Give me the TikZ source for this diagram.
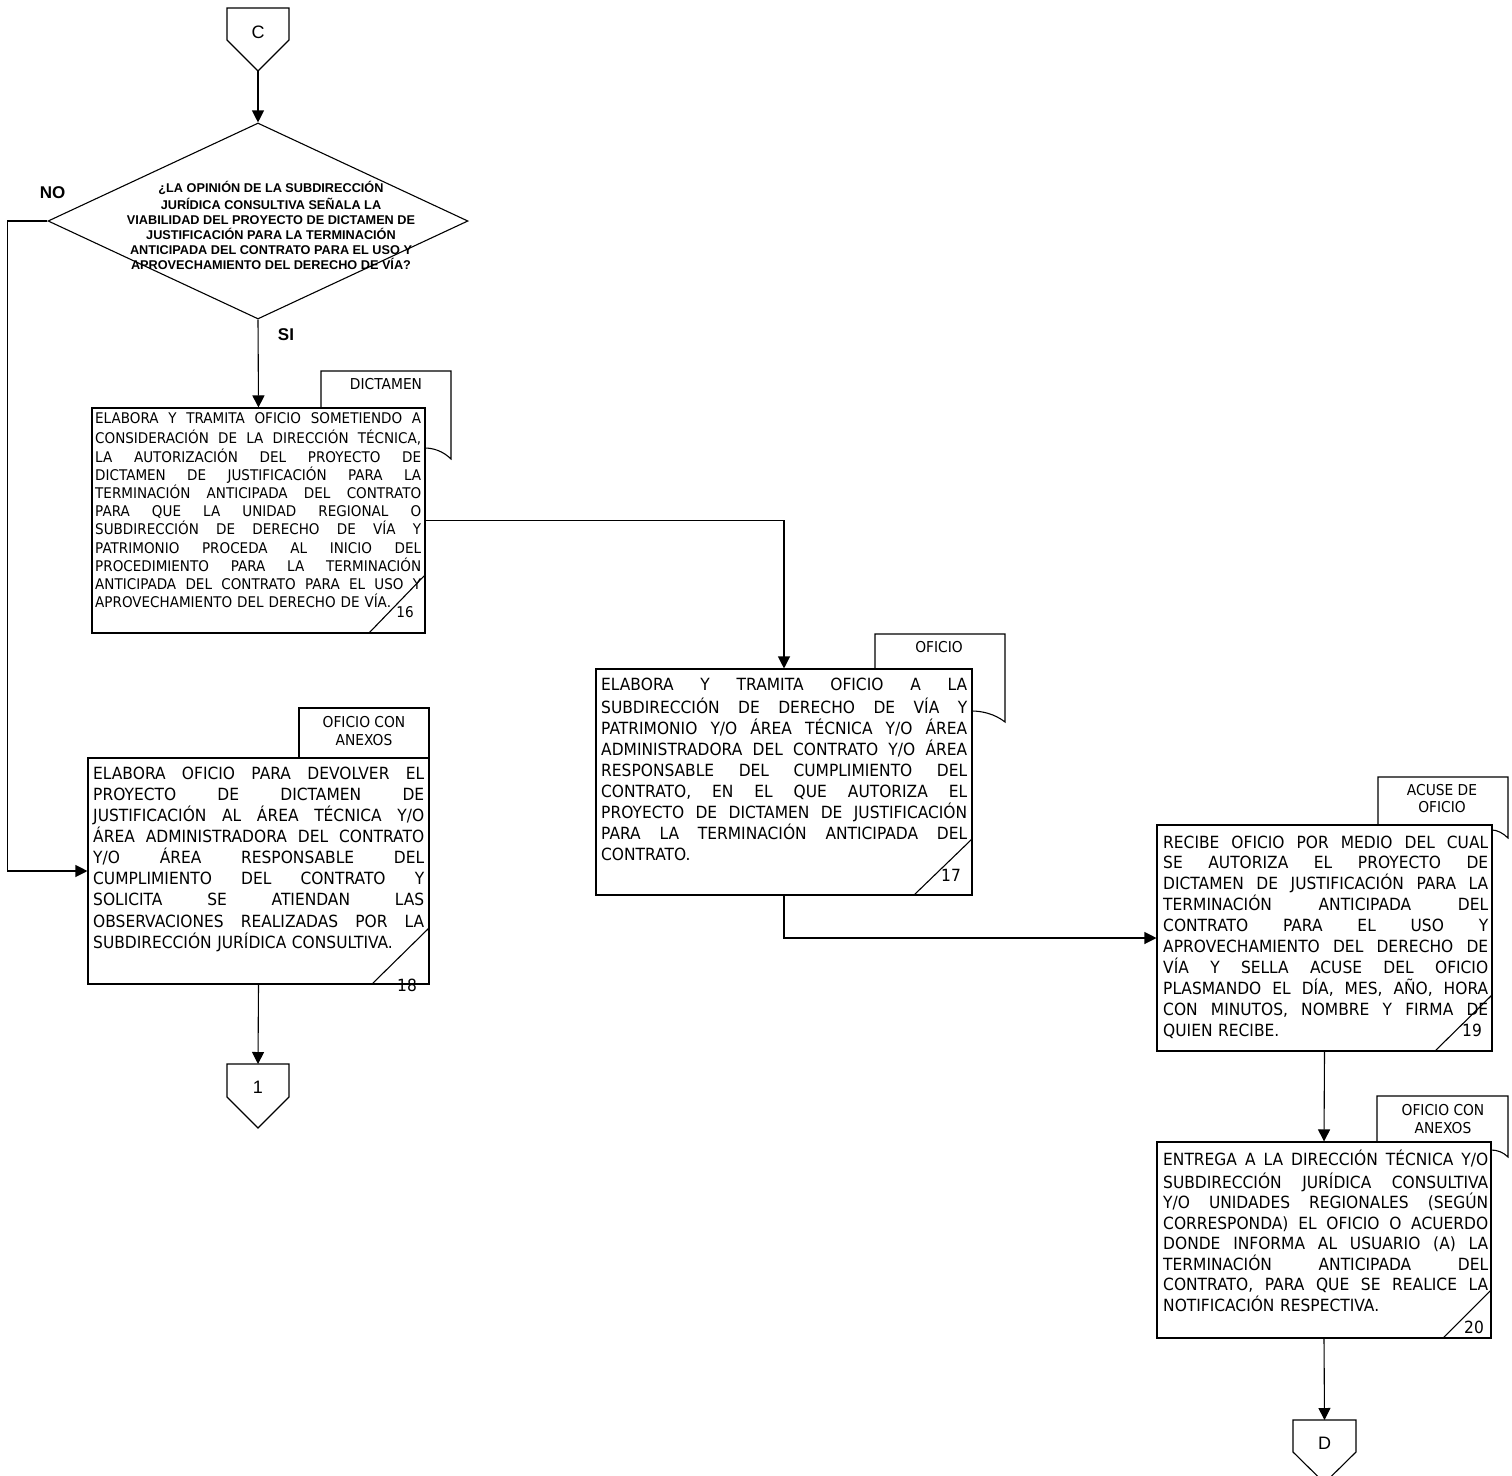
\documentclass[tikz,border=0pt]{standalone}
\usepackage{fontspec}
\setmainfont{DejaVu Sans}[FakeStretch=0.92]
\newfontfamily\arialf{Liberation Sans}
\usetikzlibrary{shapes.geometric,arrows.meta}
\newcommand\JL[1]{\leavevmode\hbox to \hsize{\spaceskip=\fontdimen2\font plus 1fil\relax #1}\\}
\tikzset{
  ln/.style={line width=1.1pt, line join=miter},
  arr/.style={ln, -{Triangle[length=12pt,width=12pt]}},
  box/.style={ln, draw, fill=white, rectangle, inner sep=0pt},
  txt/.style={anchor=north west, inner sep=0pt, text width=#1, align=left},
  big/.style={font=\fontsize{16.8}{21.1}\selectfont},
  tab/.style={inner sep=0pt, align=center, font=\fontsize{15}{17.5}\selectfont},
  num/.style={inner sep=0pt, font=\fontsize{16.8}{18}\selectfont},
  conn/.style={inner sep=0pt, font=\arialf\fontsize{18}{20}\selectfont},
  yn/.style={inner sep=0pt, font=\arialf\bfseries\fontsize{17}{19}\selectfont}
}
\begin{document}
\begin{tikzpicture}[x=1pt,y=-1pt]
\useasboundingbox (0,0) rectangle (1512,1475);
\fill[white] (0,0) rectangle (1512,1475);

% connector C
\draw[ln] (227,8) -- (289,8) -- (289,40) -- (258,71) -- (227,40) -- cycle;
\node[conn] (C) at (258,32) {C};
\coordinate (Cb) at (258,71);

% decision
\node[ln, draw, diamond, minimum width=420pt, minimum height=196pt, inner sep=0pt] (dec) at (258,221) {};
\node[anchor=north, inner sep=0pt, align=center, font=\arialf\bfseries\fontsize{12.7}{15}\selectfont] (dtxt) at (271,181)
 {\strut ¿LA OPINIÓN DE LA SUBDIRECCIÓN\\JURÍDICA CONSULTIVA SEÑALA LA\\VIABILIDAD DEL PROYECTO DE DICTAMEN DE\\JUSTIFICACIÓN PARA LA TERMINACIÓN\\ANTICIPADA DEL CONTRATO PARA EL USO Y\\APROVECHAMIENTO DEL DERECHO DE VÍA?};
\node[yn] (no) at (52.5,193) {NO};
\node[yn] (si) at (286,335) {SI};

% ---- box 16
\draw[ln] (321,408) -- (321,371) -- (451,371) -- (451,459) .. controls (443,451) and (433,448) .. (425,448);
\node[tab] (tab16) at (386,384) {DICTAMEN};
\node[box, minimum width=333pt, minimum height=225pt] (b16) at (258.5,520.5) {};
\node[txt=326pt, font=\fontsize{14.7}{18.2}\selectfont] (t16) at (95,410.8)
 {\JL{\strut ELABORA Y TRAMITA OFICIO SOMETIENDO A}%
  \JL{CONSIDERACIÓN DE LA DIRECCIÓN TÉCNICA,}%
  \JL{LA AUTORIZACIÓN DEL PROYECTO DE}%
  \JL{DICTAMEN DE JUSTIFICACIÓN PARA LA}%
  \JL{TERMINACIÓN ANTICIPADA DEL CONTRATO}%
  \JL{PARA QUE LA UNIDAD REGIONAL O}%
  \JL{SUBDIRECCIÓN DE DERECHO DE VÍA Y}%
  \JL{PATRIMONIO PROCEDA AL INICIO DEL}%
  \JL{PROCEDIMIENTO PARA LA TERMINACIÓN}%
  \JL{ANTICIPADA DEL CONTRATO PARA EL USO Y}%
  APROVECHAMIENTO DEL DERECHO DE VÍA.};
\draw[ln] (425,575) -- (369,633);
\node[num, font=\fontsize{14.8}{16}\selectfont] (n16) at (405,612) {16};

% ---- box 17
\draw[ln] (875,669) -- (875,634) -- (1005,634) -- (1005,722) .. controls (995,714) and (982,711) .. (972,711);
\node[tab] (tab17) at (939,647) {OFICIO};
\node[box, minimum width=376pt, minimum height=226pt] (b17) at (784,782) {};
\node[txt=366pt, big] (t17) at (601,675.4)
 {\JL{\strut ELABORA Y TRAMITA OFICIO A LA}%
  \JL{SUBDIRECCIÓN DE DERECHO DE VÍA Y}%
  \JL{PATRIMONIO Y/O ÁREA TÉCNICA Y/O ÁREA}%
  \JL{ADMINISTRADORA DEL CONTRATO Y/O ÁREA}%
  \JL{RESPONSABLE DEL CUMPLIMIENTO DEL}%
  \JL{CONTRATO, EN EL QUE AUTORIZA EL}%
  \JL{PROYECTO DE DICTAMEN DE JUSTIFICACIÓN}%
  \JL{PARA LA TERMINACIÓN ANTICIPADA DEL}%
  CONTRATO.};
\draw[ln] (972,839) -- (914,895);
\node[num] (n17) at (951,875) {17};

% ---- box 18
\draw[ln] (299,758) -- (299,708) -- (429,708) -- (429,758);
\node[tab] (tab18) at (364,731) {OFICIO CON\\ANEXOS};
\node[box, minimum width=341pt, minimum height=226pt] (b18) at (258.5,871) {};
\node[txt=331pt, big] (t18) at (93,764.4)
 {\JL{\strut ELABORA OFICIO PARA DEVOLVER EL}%
  \JL{PROYECTO DE DICTAMEN DE}%
  \JL{JUSTIFICACIÓN AL ÁREA TÉCNICA Y/O}%
  \JL{ÁREA ADMINISTRADORA DEL CONTRATO}%
  \JL{Y/O ÁREA RESPONSABLE DEL}%
  \JL{CUMPLIMIENTO DEL CONTRATO Y}%
  \JL{SOLICITA SE ATIENDAN LAS}%
  \JL{OBSERVACIONES REALIZADAS POR LA}%
  SUBDIRECCIÓN JURÍDICA CONSULTIVA.};
\draw[ln] (429,928) -- (372,984);
\node[num] (n18) at (407,985) {18};

% connector 1
\draw[ln] (227,1064) -- (289,1064) -- (289,1097) -- (258,1128) -- (227,1097) -- cycle;
\node[conn] (K1) at (258,1087) {1};
\coordinate (K1t) at (258,1064);

% ---- box 19
\draw[ln] (1378,825) -- (1378,777) -- (1508,777) -- (1508,838) .. controls (1503,833) and (1497,830) .. (1492,830);
\node[tab] (tab19) at (1442,798.5) {ACUSE DE\\OFICIO};
\node[box, minimum width=335pt, minimum height=226pt] (b19) at (1324.5,938) {};
\node[txt=325pt, font=\fontsize{16.8}{20.9}\selectfont] (t19) at (1163,833.2)
 {\JL{\strut RECIBE OFICIO POR MEDIO DEL CUAL}%
  \JL{SE AUTORIZA EL PROYECTO DE}%
  \JL{DICTAMEN DE JUSTIFICACIÓN PARA LA}%
  \JL{TERMINACIÓN ANTICIPADA DEL}%
  \JL{CONTRATO PARA EL USO Y}%
  \JL{APROVECHAMIENTO DEL DERECHO DE}%
  \JL{VÍA Y SELLA ACUSE DEL OFICIO}%
  \JL{PLASMANDO EL DÍA, MES, AÑO, HORA}%
  \JL{CON MINUTOS, NOMBRE Y FIRMA DE}%
  QUIEN RECIBE.};
\draw[ln] (1492,995) -- (1435,1051);
\node[num] (n19) at (1472,1030) {19};

% ---- box 20
\draw[ln] (1377,1142) -- (1377,1096) -- (1508,1096) -- (1508,1157) .. controls (1503,1152) and (1497,1150) .. (1491,1150);
\node[tab] (tab20) at (1443,1119) {OFICIO CON\\ANEXOS};
\node[box, minimum width=334pt, minimum height=196pt] (b20) at (1324,1240) {};
\node[txt=325pt, font=\fontsize{16.8}{20.5}\selectfont] (t20) at (1163,1149.5)
 {\JL{\strut ENTREGA A LA DIRECCIÓN TÉCNICA Y/O}%
  \JL{SUBDIRECCIÓN JURÍDICA CONSULTIVA}%
  \JL{Y/O UNIDADES REGIONALES (SEGÚN}%
  \JL{CORRESPONDA) EL OFICIO O ACUERDO}%
  \JL{DONDE INFORMA AL USUARIO (A) LA}%
  \JL{TERMINACIÓN ANTICIPADA DEL}%
  \JL{CONTRATO, PARA QUE SE REALICE LA}%
  NOTIFICACIÓN RESPECTIVA.};
\draw[ln] (1491,1290) -- (1443,1338);
\node[num] (n20) at (1474,1327) {20};

% connector D
\draw[ln] (1293,1420) -- (1356,1420) -- (1356,1452) -- (1324.5,1483) -- (1293,1452) -- cycle;
\node[conn] (KD) at (1324.5,1443) {D};
\coordinate (KDt) at (1324.5,1420);

% ---- connectors
\draw[arr] (Cb) -- (dec.north);
\draw[arr] (dec.south) -- (b16.north);
\draw[arr] (dec.west) -- ++(-40,0) |- (b18.west);
\draw[arr] (b16.east) -| (b17.north);
\draw[arr] (b17.south) |- (b19.west);
\draw[arr] (b18.south) -- (K1t);
\draw[arr] (b19.south) -- (b20.north);
\draw[arr] (b20.south) -- (KDt);
\end{tikzpicture}
\end{document}
